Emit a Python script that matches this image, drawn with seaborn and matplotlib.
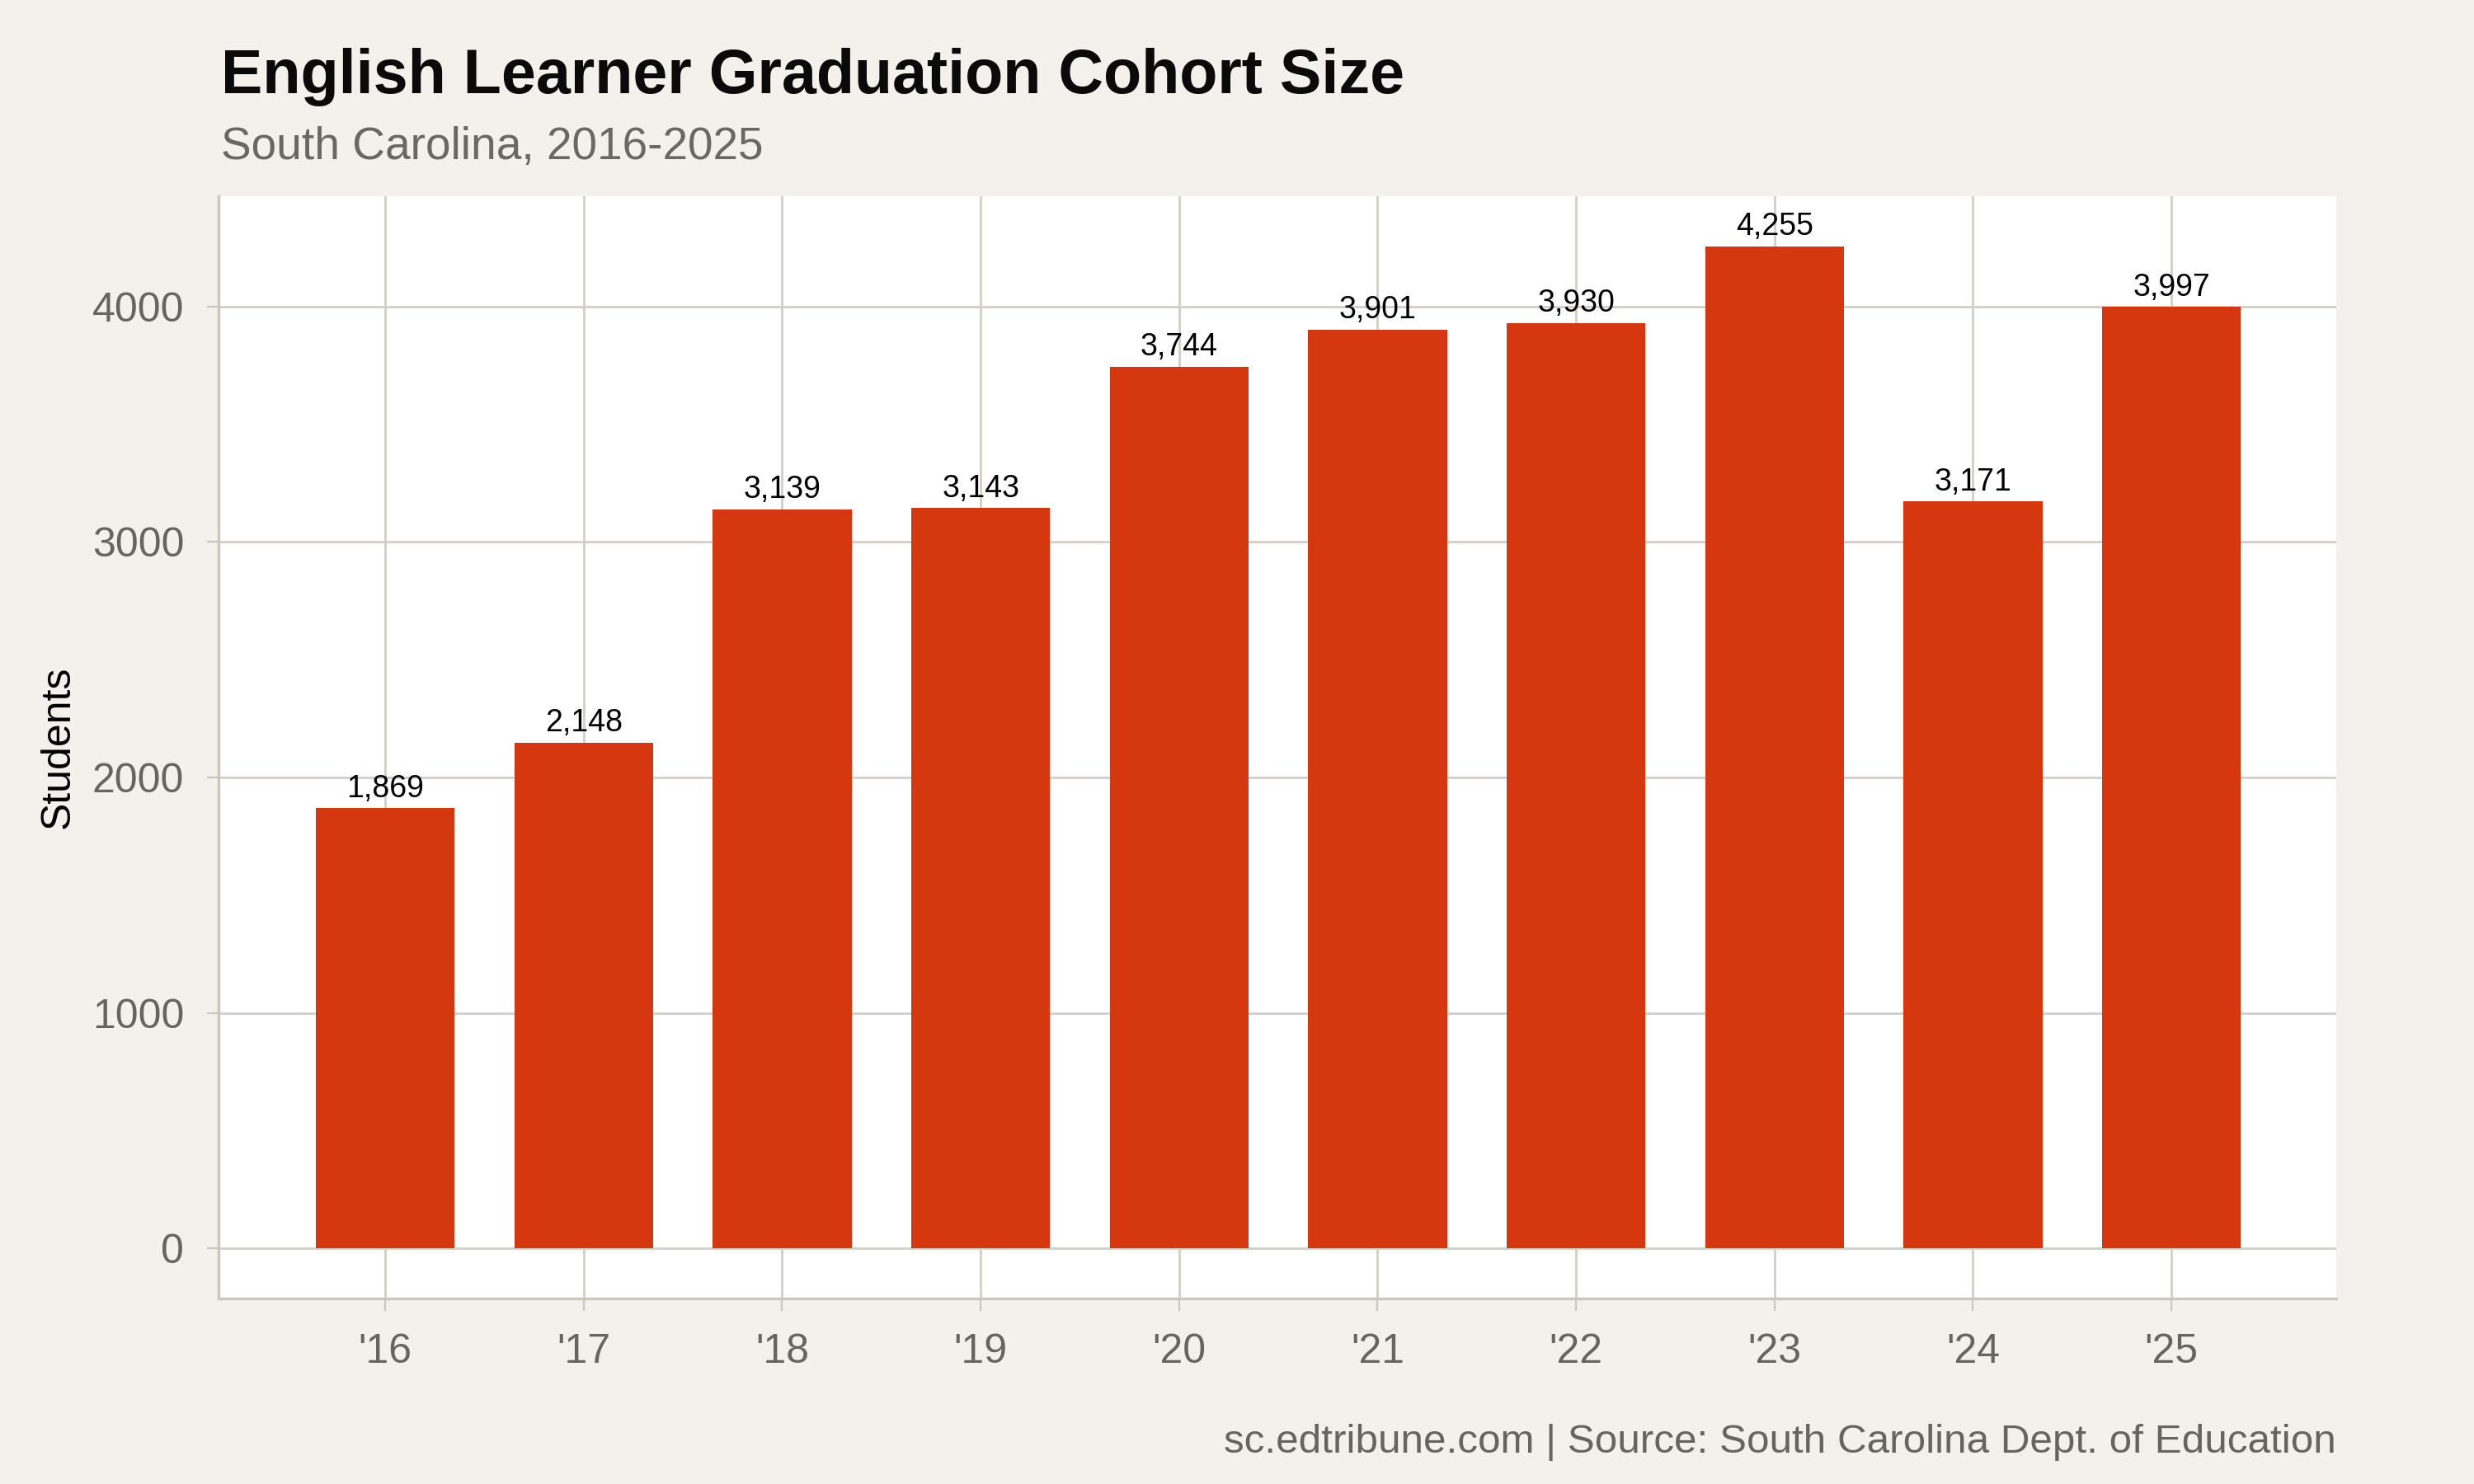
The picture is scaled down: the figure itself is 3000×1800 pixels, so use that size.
import matplotlib
matplotlib.use("Agg")
import matplotlib.pyplot as plt
import seaborn as sns
import pandas as pd

# Data
years = ["'16", "'17", "'18", "'19", "'20", "'21", "'22", "'23", "'24", "'25"]
students = [1869, 2148, 3139, 3143, 3744, 3901, 3930, 4255, 3171, 3997]

title = "English Learner Graduation Cohort Size"
subtitle = "South Carolina, 2016-2025"
caption = "sc.edtribune.com | Source: South Carolina Dept. of Education"
y_label = "Students"

BG = "#F4F1EC"
BAR = "#D5380E"
GRID = "#D3CEC6"
AXIS = "#CBC5BB"
TICKTXT = "#68645E"

sns.set_theme(style="white")
plt.rcParams["font.family"] = ["Liberation Sans", "DejaVu Sans"]

df = pd.DataFrame({"year": years, "students": students})

fig = plt.figure(figsize=(15, 9), dpi=200, facecolor=BG)
ax = fig.add_axes([0.0883, 0.125, 0.9443 - 0.0883, 0.8678 - 0.125])
ax.set_facecolor("white")

sns.barplot(data=df, x="year", y="students", order=years, color=BAR,
            saturation=1, width=0.7, ax=ax, zorder=3, edgecolor="none", linewidth=0)

ax.set_ylim(-0.05 * max(students), 1.05 * max(students))
ax.set_xlim(-0.84, len(years) - 1 + 0.83)
ax.set_yticks([0, 1000, 2000, 3000, 4000])
ax.set_yticklabels(["0", "1000", "2000", "3000", "4000"])

ax.grid(True, axis="both", color=GRID, linewidth=1.0, zorder=0)
ax.set_axisbelow(True)

for side in ["top", "right"]:
    ax.spines[side].set_visible(False)
for side in ["left", "bottom"]:
    ax.spines[side].set_visible(True)
    ax.spines[side].set_color(AXIS)
    ax.spines[side].set_linewidth(1.2)

ax.tick_params(axis="y", which="major", length=5.0, width=0.8, color=AXIS,
               pad=10, labelsize=18, labelcolor=TICKTXT, left=True)
ax.tick_params(axis="x", which="major", length=5.4, width=0.8, color=AXIS,
               pad=9.7, labelsize=18, labelcolor=TICKTXT, bottom=True)

ax.set_xlabel("")
ax.set_ylabel("")

for cont in ax.containers:
    ax.bar_label(cont, labels=[f"{v:,}" for v in students], padding=2,
                 fontsize=13.5, color="black")

fig.text(0.0893, 1 - 113 / 1800, title, fontsize=27.2, fontweight="bold",
         color="#0A0A0A", ha="left", va="baseline")
fig.text(0.0893, 1 - 193 / 1800, subtitle, fontsize=19.8, color="#6B6863",
         ha="left", va="baseline")
fig.text(0.9443, 1 - 1762 / 1800, caption, fontsize=17.8, color=TICKTXT,
         ha="right", va="baseline")
fig.text(71 / 3000, 1 - 906 / 1800, y_label, fontsize=18, color="black",
         rotation=90, ha="center", va="center")

fig.savefig("out.png", dpi=200, facecolor=BG)
